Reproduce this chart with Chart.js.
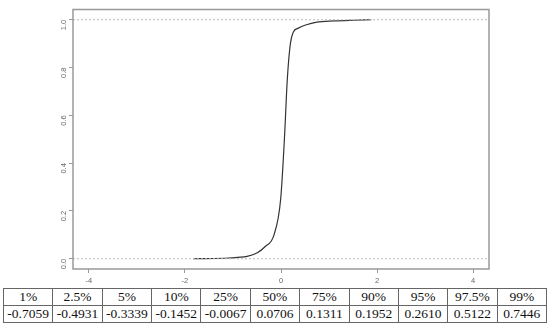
<!DOCTYPE html>
<html>
<head>
<meta charset="utf-8">
<script src="https://cdn.jsdelivr.net/npm/chart.js@4/dist/chart.umd.min.js"></script>
<style>
  html, body { margin: 0; padding: 0; background: #fff; }
  #wrap { position: relative; width: 550px; height: 288px; }
  table.q {
    position: absolute; left: 3px; top: 288px; width: 544px;
    border-collapse: collapse; table-layout: fixed;
    font-family: "Liberation Serif", serif; font-size: 13.5px; color: #111;
    border: 1.5px solid #555;
  }
  table.q td { border: 1px solid #666; text-align: center; height: 16px; padding: 0; line-height: 16px; }
</style>
</head>
<body>
<div id="wrap"><canvas id="cdf"></canvas></div>
<table class="q" id="quant"></table>
<script>
// ECDF curve (x value, cumulative share)
const curveX = [-1.83, -1.4, -1.1, -0.9, -0.7059, -0.4931, -0.3339, -0.1452, -0.0067, 0.0706, 0.1311, 0.1952, 0.2610, 0.35, 0.5122, 0.7446, 1.1, 1.5, 1.88];
const curveY = [0.0, 0.001, 0.003, 0.006, 0.01, 0.025, 0.05, 0.10, 0.25, 0.50, 0.75, 0.90, 0.95, 0.964, 0.978, 0.99, 0.995, 0.998, 1.0];
// dashed reference lines
const refLevels = [0, 1];
const xTicks = [-4, -2, 0, 2, 4];
const yTicks = [0, 0.2, 0.4, 0.6, 0.8, 1.0];
// quantile table
const probLabels = ['1%', '2.5%', '5%', '10%', '25%', '50%', '75%', '90%', '95%', '97.5%', '99%'];
const quantiles = ['-0.7059', '-0.4931', '-0.3339', '-0.1452', '-0.0067', '0.0706', '0.1311', '0.1952', '0.2610', '0.5122', '0.7446'];

const X_MIN = -4.33, X_MAX = 4.33;

const boxPlugin = {
  id: 'box',
  afterDraw(chart) {
    const a = chart.chartArea, c = chart.ctx;
    c.save();
    c.strokeStyle = '#999';
    c.lineWidth = 1.5;
    c.strokeRect(a.left, a.top, a.right - a.left, a.bottom - a.top);
    c.restore();
  }
};

const datasets = refLevels.map(v => ({
  data: [{ x: X_MIN, y: v }, { x: X_MAX, y: v }],
  showLine: true, borderColor: '#b8b8b8', borderWidth: 1, borderDash: [2, 2],
  pointRadius: 0
}));
datasets.push({
  data: curveX.map((x, i) => ({ x, y: curveY[i] })),
  showLine: true, borderColor: '#333', borderWidth: 1.2,
  cubicInterpolationMode: 'monotone', pointRadius: 0
});

new Chart(document.getElementById('cdf'), {
  type: 'scatter',
  data: { datasets },
  options: {
    responsive: true, maintainAspectRatio: false, animation: false,
    layout: { padding: { top: 3, right: 61, left: 0, bottom: 0 } },
    plugins: { legend: { display: false }, tooltip: { enabled: false } },
    scales: {
      x: {
        min: X_MIN, max: X_MAX,
        afterBuildTicks: s => { s.ticks = xTicks.map(v => ({ value: v })); },
        afterFit: s => { s.height = 19; },
        grid: { drawOnChartArea: false, tickLength: 4, color: '#999' },
        border: { display: false },
        ticks: { color: '#666', font: { family: 'Liberation Sans', size: 7.5 }, padding: 3, maxRotation: 0 }
      },
      y: {
        min: -0.043, max: 1.043,
        afterBuildTicks: s => { s.ticks = yTicks.map(v => ({ value: v })); },
        afterFit: s => { s.width = 73; },
        grid: { drawOnChartArea: false, tickLength: 4, color: '#999' },
        border: { display: false },
        ticks: {
          color: '#666', font: { family: 'Liberation Sans', size: 7.5 }, padding: 5,
          minRotation: 90, maxRotation: 90,
          callback: v => v.toFixed(1)
        }
      }
    }
  },
  plugins: [boxPlugin]
});

const tbl = document.getElementById('quant');
[probLabels, quantiles].forEach(row => {
  const tr = document.createElement('tr');
  row.forEach(t => { const td = document.createElement('td'); td.textContent = t; tr.appendChild(td); });
  tbl.appendChild(tr);
});
</script>
</body>
</html>
